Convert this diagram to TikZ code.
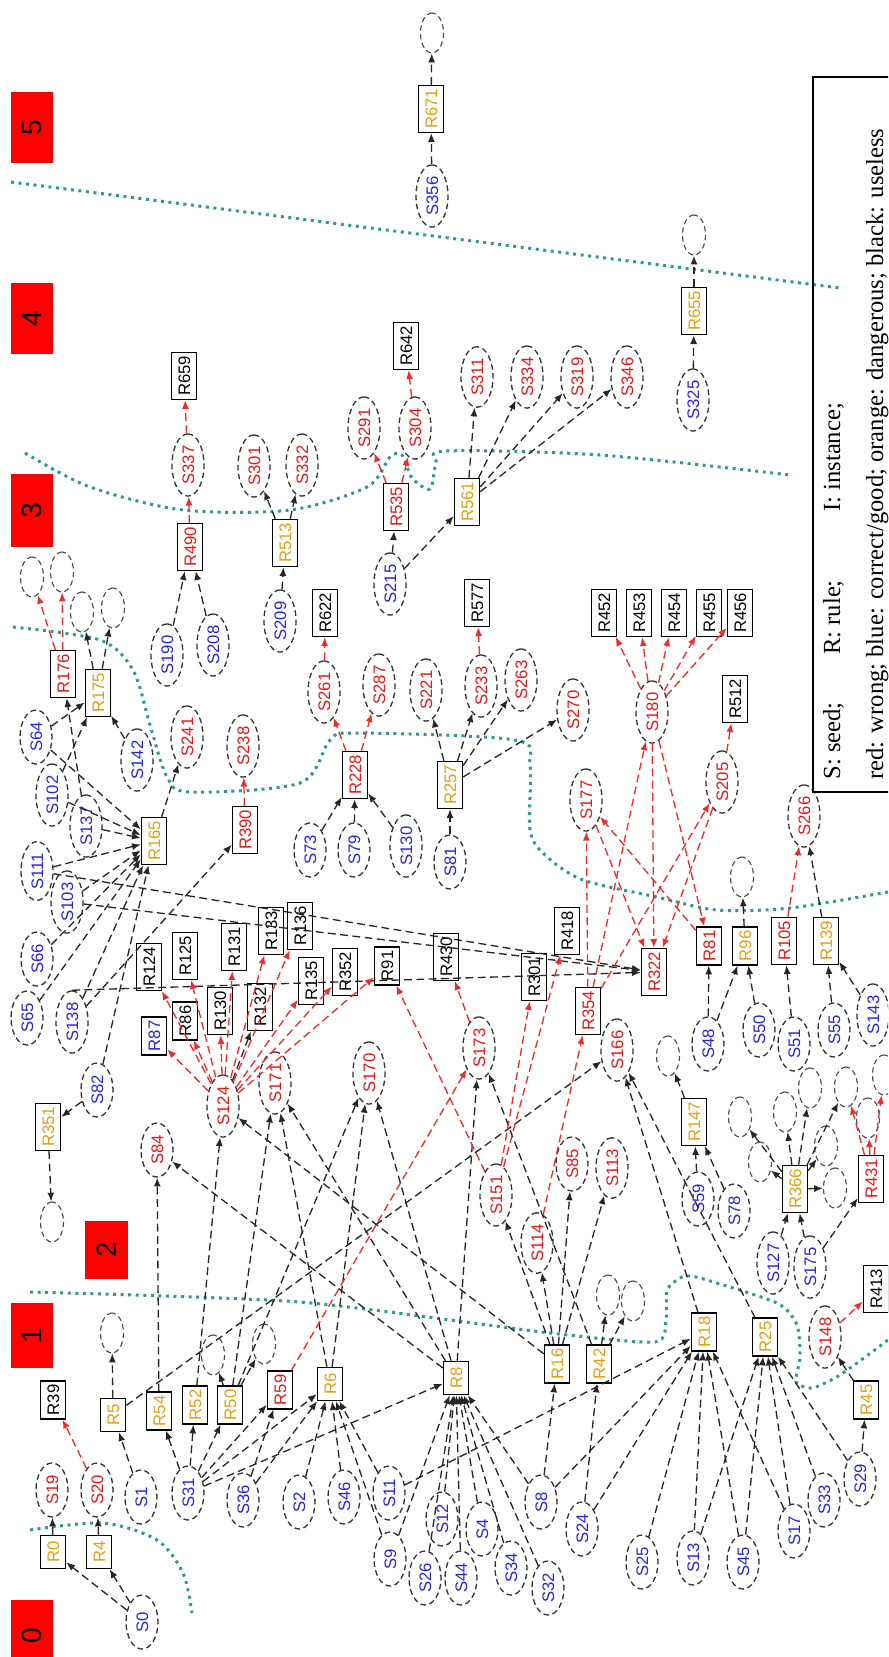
\documentclass[tikz,border=0pt]{standalone}
\usepackage{fontspec}
\setmainfont{Liberation Serif}
\setsansfont{Liberation Sans}
\usetikzlibrary{shapes.geometric,arrows.meta}
\definecolor{sblue}{RGB}{40,40,210}
\definecolor{sred}{RGB}{225,25,25}
\definecolor{sorange}{RGB}{225,160,20}
\definecolor{redge}{RGB}{235,45,45}
\definecolor{dotc}{RGB}{50,150,150}
\definecolor{labred}{RGB}{255,0,0}
\tikzset{
  seed/.style={ellipse, draw=black!80, dash pattern=on 3.2pt off 2pt, line width=0.75pt, rotate=90,
    minimum width=10.8mm, minimum height=6.4mm, inner xsep=0.5mm, inner ysep=0pt,
    text height=7pt, text depth=0pt, font=\sffamily\fontsize{9.5}{11}\selectfont},
  sb/.style={seed, text=sblue},
  sr/.style={seed, text=sred},
  fade/.style={ellipse, draw=black!70, dash pattern=on 3pt off 2pt, line width=0.65pt, rotate=90,
    minimum width=8mm, minimum height=4.6mm, inner sep=0pt},
  rulebox/.style={rectangle, draw=black, line width=0.85pt, rotate=90, minimum width=6.6mm,
    minimum height=5mm, inner xsep=2pt, inner ysep=0pt, text height=7pt, text depth=0pt,
    font=\sffamily\fontsize{9.5}{11}\selectfont},
  rk/.style={rulebox, text=black},
  ro/.style={rulebox, text=sorange},
  rr/.style={rulebox, text=sred},
  rb/.style={rulebox, text=sblue},
  lvl/.style={fill=labred, rotate=90, inner sep=0pt, minimum height=8.4mm,
    font=\sffamily\fontsize{16}{18}\selectfont},
  ke/.style={draw=black!85, line width=0.75pt, dash pattern=on 4.5pt off 2.5pt, -{Latex[length=5pt,width=4pt]}},
  re/.style={ke, draw=redge},
  bound/.style={draw=dotc, line width=1.7pt, dash pattern=on 1.7pt off 2.6pt},
  leg/.style={rotate=90, inner sep=0pt, font=\fontsize{14}{16}\selectfont},
}
\begin{document}
\begin{tikzpicture}[x=0.2mm, y=-0.2mm]
\useasboundingbox (0,0) rectangle (888,1657);
\clip (0,0) rectangle (888,1657);

% level boundaries
\draw[bound] (11,182) -- (840,288);
\draw[bound] plot[smooth, tension=0.5] coordinates {(25,453) (90,487) (183,510) (290,510) (367,487) (390,457) (402,455) (412,478) (430,489) (436,463) (446,451) (600,455) (790,475)};
\draw[bound] plot[smooth, tension=0.5] coordinates {(13,627) (100,640) (133,670) (150,725) (167,777) (190,792) (300,783) (330,740) (357,733) (515,740) (530,765) (530,830) (545,855) (583,880) (657,897) (717,910) (790,908) (888,892)};
\draw[bound] plot[smooth, tension=0.4] coordinates {(30,1292) (300,1302) (550,1333) (655,1342) (666,1320) (667,1290) (682,1277) (700,1278) (777,1303) (797,1325) (800,1357) (796,1382) (812,1388) (835,1378) (857,1363) (888,1340)};
\draw[bound] plot[smooth, tension=0.5] coordinates {(30,1530) (103,1523) (157,1540) (183,1573) (192,1613)};

% level labels
\node[lvl, minimum width=14.2mm] (lab5) at (32,127.5) {5};
\node[lvl, minimum width=14.2mm] (lab4) at (32,318.5) {4};
\node[lvl, minimum width=14.6mm] (lab3) at (32,510.5) {3};
\node[lvl, minimum width=11.6mm, minimum height=8.6mm] (lab2) at (106.5,1250) {2};
\node[lvl, minimum width=13mm] (lab1) at (32,1335.5) {1};
\node[lvl, minimum width=14.2mm] (lab0) at (32,1635.5) {0};

% blue seeds
\foreach \n/\x/\y in {S0/142/1622, S1/141/1497, S31/188/1493, S36/243/1500, S2/299/1502, S46/344/1497,
  S11/389/1493, S9/390/1559, S12/442/1519, S26/425/1578, S44/461/1578, S4/482/1529, S34/511/1568,
  S32/548/1588, S8/541/1502, S24/582/1529, S25/642/1562, S13/693/1558, S45/743/1562, S17/794/1531,
  S33/824/1500, S29/860/1479, S127/773/1263, S175/810/1267, S59/698/1199, S78/734/1211, S48/708/1044,
  S50/759/1030, S51/794/1044, S55/834/1030, S143/873/1015, S82/97/1090, S65/27/1018, S138/72/1022,
  S66/37/959, S103/67/902, S111/37/871, S137/86/826, S102/52/795, S64/36/737, S142/137/760,
  S73/310/850, S79/354/850, S130/406/846, S81/450/862, S190/167/655, S208/213/645,
  S209/280/621, S215/390/584, S325/693/400, S356/432/196}
  \node[sb] (\n) at (\x,\y) {\n};

% red instances
\foreach \n/\x/\y in {S19/52/1490, S20/97/1490, S84/157/1150, S124/223/1106, S171/275/1083,
  S170/369/1073, S173/479/1048, S151/496/1195, S114/537/1243, S85/572/1164, S113/612/1168,
  S166/617/1050, S177/586/800, S180/652/712, S205/722/782, S266/804/816, S148/825/1337,
  S241/187/737, S238/243/746, S337/188/465, S301/254/466, S332/302/465, S291/364/428,
  S304/415/428, S311/477/377, S334/527/377, S319/577/377, S346/627/377, S261/324/692,
  S287/379/685, S221/426/690, S233/481/686, S263/521/680, S270/573/710}
  \node[sr] (\n) at (\x,\y) {\n};

% rules
\foreach \n/\x/\y in {R39/53/1400, R413/876/1289, R418/567/931, R301/534/977, R430/446/957,
  R91/387/966, R352/345/972, R135/311/981, R136/300/926, R133/271/931, R132/260/1007,
  R131/234/947, R130/220/1011, R125/185/956, R86/185/1021, R124/149/967, R659/184/376,
  R642/406/346, R622/325/613, R577/477/603, R452/604/613, R453/639/613, R454/674/613,
  R455/709/613, R456/740/613, R512/735/699}
  \node[rk] (\n) at (\x,\y) {\n};
\foreach \n/\x/\y in {R0/53/1552, R4/99/1552, R5/113/1415, R54/159/1411, R52/195/1405,
  R50/230/1405, R6/330/1384, R8/456/1378, R16/557/1364, R42/599/1364, R18/704/1332,
  R25/765/1337, R45/866/1400, R366/795/1189, R147/694/1122, R96/745/946, R139/826/941,
  R351/48/1127, R165/154/841, R175/98/693, R513/285/543, R561/467/502, R257/450/785,
  R655/694/311, R671/431/109}
  \node[ro] (\n) at (\x,\y) {\n};
\foreach \n/\x/\y in {R59/280/1390, R431/871/1179, R81/709/946, R105/784/941, R322/654/972,
  R354/588/1011, R390/245/830, R176/63/674, R490/190/547, R535/396/507, R228/355/775}
  \node[rr] (\n) at (\x,\y) {\n};
\node[rb] (R87) at (154,1036) {R87};

% faint instances
\foreach \n/\x/\y in {F671/432/33, F655/694/235, F176a/32/577, F176b/62/572, F175a/82/612,
  F175b/113/608, F351/52/1222, F5/112/1333, F50a/213/1355, F50b/264/1344, F42a/608/1295,
  F42b/633/1301, F96/742/877, F147/668/1056, F366a/740/1117, F366b/760/1162, F366c/785/1112,
  F366d/810/1088, F366e/826/1146, F366f/835/1188, F366g/846/1087, F431a/868/1118, F431b/884/1075}
  \node[fade] (\n) at (\x,\y) {};

% black edges
\foreach \a/\b in {S0/R0, S0/R4, R0/S19, R4/S20, S1/R5, R5/F5, R5/S166, S31/R54, S31/R52,
  S31/R50, S31/R59, S31/R6, S31/R8, S36/R59, S36/R6, S2/R6, S46/R6, S11/R6, S9/R6, S9/R8,
  S12/R8, S26/R8, S44/R8, S4/R8, S34/R8, S32/R8, S8/R8, S8/R16, S8/R18, S11/R18, S24/R42,
  S24/R18, S25/R18, S13/R18, S45/R18, S17/R18, S13/R25, S45/R25, S17/R25, S33/R25, S29/R25,
  S29/R45, R45/S148, R42/F42a, R42/F42b, R50/F50a, R50/F50b, R18/S166, R25/S166, R54/S84,
  R8/S84, R52/S124, R16/S124, R50/S171, R6/S171, R8/S171, R50/S170, R6/S170, R8/S170,
  R8/S173, R42/S173, R16/S151, R16/S114, R16/S85, R16/S113, S124/R132, S111/R322,
  S103/R322, S138/R390, S82/R351, R351/F351, S82/R165, S65/R165, S66/R165, S138/R165,
  S103/R165, S111/R165, S137/R165, S102/R165, S64/R165, S137/R176, S102/R175, S64/R175,
  S142/R175, R165/S241, R175/F175a, R175/F175b, S48/R81, S48/R96, S50/R96, S51/R105,
  S55/R139, S143/R139, R96/F96, R139/S266, S59/R147, S78/R147, R147/F147, S127/R366,
  S175/R366, R366/F366a, R366/F366b, R366/F366c, R366/F366d, R366/F366e, R366/F366f,
  R366/F366g, S175/R431, S190/R490, S208/R490, S209/R513, R513/S301, R513/S332, S215/R535,
  S215/R561, R561/S311, R561/S334, R561/S319, R561/S346, S73/R228, S79/R228, S130/R228,
  S81/R257, R257/S221, R257/S233, R257/S263, R257/S270, S325/R655, R655/F655, S356/R671,
  R671/F671}
  \draw[ke] (\a) -- (\b);
\draw[ke] (S138.east) -- (R322);

% red edges
\foreach \a/\b in {S20/R39, R59/S173, S148/R413, S124/R87, S124/R86, S124/R124, S124/R125,
  S124/R130, S124/R131, S124/R133, S124/R136, S124/R135, S124/R352, S124/R91, S151/R91,
  S151/R301, S151/R418, S114/R354, S173/R430, R354/S177, R354/S180, R354/S205, R81/S177,
  S180/R81, S180/R322, S177/R322, S205/R322, S205/R512, R105/S266, S180/R452, S180/R453,
  S180/R454, S180/R455, S180/R456, R490/S337, S337/R659, R535/S291, R535/S304, S304/R642,
  R228/S261, R228/S287, S261/R622, S233/R577, R390/S238, R176/F176a, R176/F176b,
  R431/F366g, R431/F431a, R431/F431b}
  \draw[re] (\a) -- (\b);

% legend
\draw[line width=0.6pt] (813,77) rectangle (900,792);
\node[leg, anchor=base west] (leg1) at (840,780) {S: seed;};
\node[leg, anchor=base west] (leg2) at (840,655) {R: rule;};
\node[leg, anchor=base west] (leg3) at (840,512) {I: instance;};
\node[leg, anchor=base west] (leg4) at (883,780) {red: wrong; blue: correct/good; orange: dangerous; black: useless};
\end{tikzpicture}
\end{document}
